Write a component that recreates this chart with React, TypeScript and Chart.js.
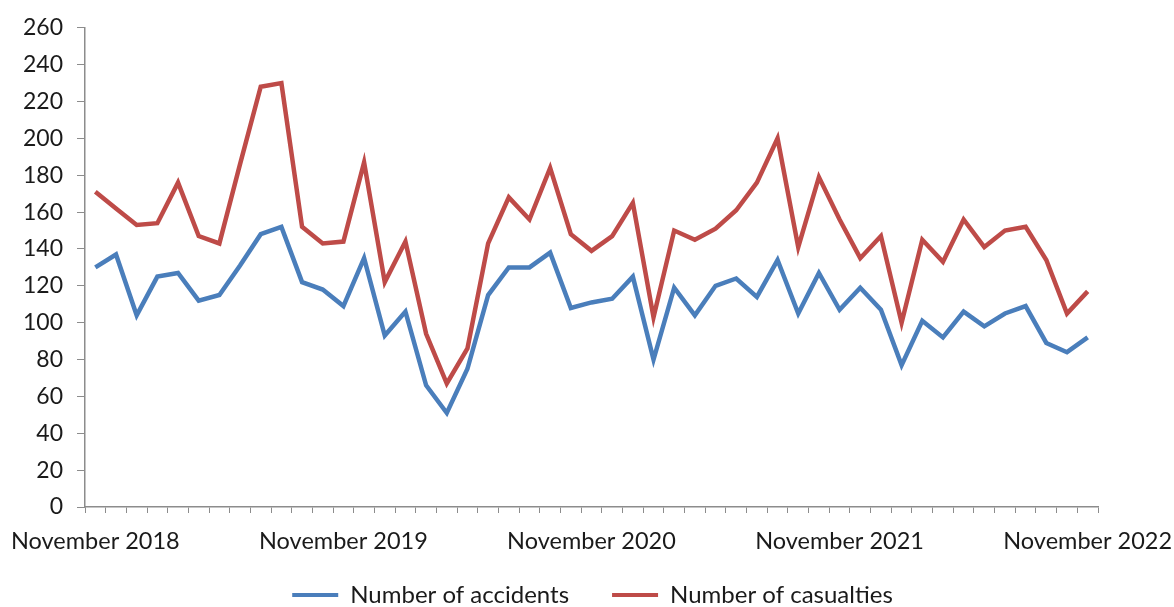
import React, { useEffect, useRef } from "react";
import { Chart, registerables } from "chart.js";

Chart.register(...registerables);

const MONTHS = ["November", "December", "January", "February", "March", "April", "May", "June", "July", "August", "September", "October"];
const START_YEAR = 2018;
const POINT_COUNT = 49;

const categories: string[] = [];
for (let i = 0; i < POINT_COUNT; i++) {
  const m = MONTHS[i % 12];
  const y = START_YEAR + Math.floor((i + 10) / 12);
  categories.push(`${m} ${y}`);
}

const accidents = [
  130, 137, 104, 125, 127, 112, 115, 131, 148, 152, 122, 118,
  109, 135, 93, 106, 66, 51, 75, 115, 130, 130, 138, 108,
  111, 113, 125, 80, 119, 104, 120, 124, 114, 134, 105, 127,
  107, 119, 107, 77, 101, 92, 106, 98, 105, 109, 89, 84, 92,
];

const casualties = [
  171, 162, 153, 154, 176, 147, 143, 186, 228, 230, 152, 143,
  144, 187, 122, 144, 94, 67, 86, 143, 168, 156, 184, 148,
  139, 147, 165, 103, 150, 145, 151, 161, 176, 200, 141, 179,
  156, 135, 147, 100, 145, 133, 156, 141, 150, 152, 134, 105, 117,
];

const seriesNames = ["Number of accidents", "Number of casualties"];
const Y_MIN = 0;
const Y_MAX = 260;
const Y_STEP = 20;

const FONT = "Lato";
const TEXT = "#1a1a1a";
const AXIS = "#8c8c8c";

// lets the x-axis labels draw below the (deliberately short) axis box
const extendXLabelArea = {
  id: "extendXLabelArea",
  afterLayout(chart: any) {
    const s = chart.scales.x;
    if (s) s.bottom = s.top + 60;
  },
};

export default function App() {
  const ref = useRef<HTMLCanvasElement | null>(null);

  useEffect(() => {
    document.body.style.margin = "0";
    const canvas = ref.current;
    if (!canvas) return;
    const chart = new Chart(canvas, {
      type: "line",
      data: {
        labels: categories,
        datasets: [
          {
            label: seriesNames[0],
            data: accidents,
            borderColor: "#4a7ebb",
            backgroundColor: "#4a7ebb",
            borderWidth: 4.5,
            pointRadius: 0,
            tension: 0,
          },
          {
            label: seriesNames[1],
            data: casualties,
            borderColor: "#be4b48",
            backgroundColor: "#be4b48",
            borderWidth: 4.5,
            pointRadius: 0,
            tension: 0,
          },
        ],
      },
      plugins: [extendXLabelArea],
      options: {
        responsive: false,
        animation: false,
        devicePixelRatio: 1,
        layout: { padding: { left: 11, right: 0, top: 25, bottom: 0 } },
        plugins: {
          tooltip: { enabled: false },
          legend: {
            position: "bottom",
            maxHeight: 67,
            labels: {
              boxWidth: 46,
              boxHeight: 4,
              padding: 43,
              color: TEXT,
              font: { family: FONT, size: 24 },
              generateLabels: (c: any) =>
                c.data.datasets.map((ds: any, i: number) => ({
                  text: ds.label,
                  fillStyle: ds.borderColor,
                  strokeStyle: ds.borderColor,
                  lineWidth: 0,
                  hidden: false,
                  datasetIndex: i,
                  fontColor: TEXT,
                })),
            },
          },
        },
        scales: {
          x: {
            type: "category",
            offset: true,
            grid: {
              offset: true,
              drawOnChartArea: false,
              drawTicks: true,
              tickLength: 6,
              tickColor: AXIS,
            },
            border: { color: AXIS, width: 1.5 },
            ticks: {
              autoSkip: false,
              maxRotation: 0,
              minRotation: 0,
              padding: 14,
              color: TEXT,
              font: { family: FONT, size: 23.5 },
              callback: function (_v: any, index: number) {
                return index % 12 === 0 ? categories[index] : "";
              },
            },
            afterFit: (scale: any) => {
              scale.height = 33;
              scale.paddingLeft = 0;
              scale.paddingRight = 0;
            },
          },
          y: {
            min: Y_MIN,
            max: Y_MAX,
            grid: {
              drawOnChartArea: false,
              drawTicks: true,
              tickLength: 8,
              tickColor: AXIS,
            },
            border: { color: AXIS, width: 1.5 },
            ticks: {
              stepSize: Y_STEP,
              padding: 14,
              color: TEXT,
              font: { family: FONT, size: 23 },
            },
            afterFit: (scale: any) => {
              scale.width = 74;
            },
          },
          yR: {
            position: "right",
            display: true,
            grid: { display: false, drawTicks: false },
            border: { display: false },
            ticks: { display: false },
            afterFit: (scale: any) => {
              scale.width = 76;
            },
          },
        },
      },
    });
    return () => chart.destroy();
  }, []);

  return (
    <div style={{ width: 1174, height: 607 }}>
      <canvas ref={ref} width={1174} height={607} style={{ display: "block", width: 1174, height: 607 }} />
    </div>
  );
}
